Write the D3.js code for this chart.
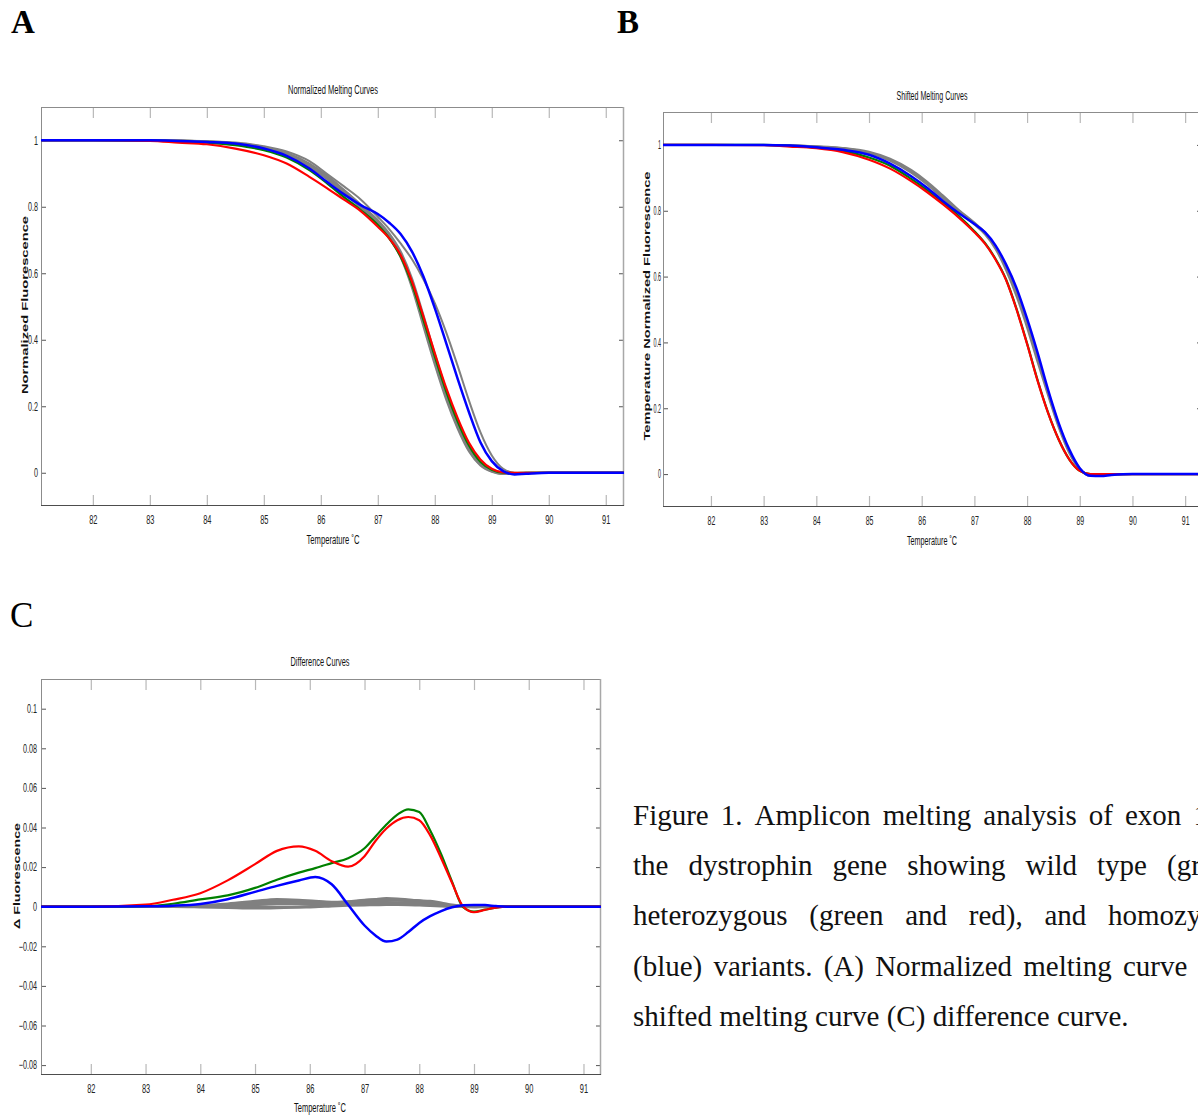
<!DOCTYPE html>
<html>
<head>
<meta charset="utf-8">
<script src="https://cdn.jsdelivr.net/npm/d3@7"></script>
<style>
  body { margin: 0; background: #fff; }
  svg { display: block; }
</style>
</head>
<body>
<svg id="fig" width="1198" height="1116"></svg>
<script>
// temperature grid shared by every curve (deg C)
const temps = [81.1, 82, 83, 83.5, 84, 84.5, 85, 85.4, 85.8, 86.1, 86.4, 86.7, 87.0, 87.2, 87.4,
  87.6, 87.8, 88.0, 88.2, 88.4, 88.6, 88.8, 89.0, 89.2, 89.4, 89.6, 90, 91, 91.32];

// A - normalized melting curves
const normGray = [
  [1, 1, 1, 0.999, 0.996, 0.99, 0.978, 0.96, 0.928, 0.892, 0.85, 0.805, 0.755, 0.715, 0.66, 0.575, 0.462, 0.345, 0.238, 0.148, 0.075, 0.028, 0.006, -0.003, -0.003, 0, 0, 0, 0],
  [1, 1, 1, 0.999, 0.996, 0.989, 0.976, 0.957, 0.924, 0.888, 0.846, 0.8, 0.752, 0.71, 0.652, 0.562, 0.448, 0.332, 0.227, 0.138, 0.068, 0.024, 0.004, -0.004, -0.003, -0.001, 0, 0, 0],
  [1, 1, 1, 0.999, 0.997, 0.991, 0.98, 0.962, 0.93, 0.895, 0.852, 0.807, 0.76, 0.72, 0.666, 0.585, 0.475, 0.358, 0.25, 0.157, 0.082, 0.032, 0.008, -0.002, -0.002, 0, 0, 0, 0],
  [1, 1, 1, 0.998, 0.995, 0.988, 0.974, 0.954, 0.92, 0.884, 0.842, 0.797, 0.748, 0.706, 0.648, 0.556, 0.44, 0.325, 0.22, 0.133, 0.064, 0.022, 0.003, -0.004, -0.004, -0.001, 0, 0, 0],
  [1, 1, 1, 0.999, 0.997, 0.993, 0.982, 0.966, 0.937, 0.9, 0.862, 0.822, 0.77, 0.733, 0.69, 0.642, 0.582, 0.51, 0.422, 0.322, 0.217, 0.122, 0.052, 0.012, 0, -0.002, 0, 0, 0]
];
const normGreen = [1, 1, 0.999, 0.997, 0.993, 0.985, 0.97, 0.948, 0.91, 0.872, 0.83, 0.79, 0.745, 0.705, 0.65, 0.567, 0.46, 0.35, 0.245, 0.155, 0.082, 0.033, 0.009, 0, -0.001, 0, 0, 0, 0];
const normRed = [1, 1, 0.998, 0.993, 0.988, 0.975, 0.955, 0.93, 0.89, 0.857, 0.822, 0.787, 0.74, 0.705, 0.655, 0.575, 0.47, 0.36, 0.255, 0.165, 0.09, 0.04, 0.012, 0.001, 0, 0, 0, 0, 0];
const normBlue = [1, 1, 1, 0.998, 0.995, 0.99, 0.975, 0.953, 0.915, 0.876, 0.838, 0.805, 0.778, 0.752, 0.718, 0.665, 0.59, 0.495, 0.39, 0.283, 0.182, 0.092, 0.035, 0.005, -0.005, -0.003, 0, 0, 0];

// B - temperature shifted melting curves
const shiftGray = [
  [1, 1, 1, 0.999, 0.995, 0.99, 0.977, 0.955, 0.92, 0.885, 0.843, 0.8, 0.762, 0.733, 0.69, 0.628, 0.55, 0.455, 0.35, 0.245, 0.148, 0.068, 0.016, -0.004, -0.004, -0.001, 0, 0, 0],
  [1, 1, 1, 0.999, 0.996, 0.991, 0.979, 0.958, 0.924, 0.889, 0.847, 0.803, 0.764, 0.735, 0.692, 0.632, 0.555, 0.46, 0.356, 0.25, 0.152, 0.07, 0.017, -0.004, -0.004, 0, 0, 0, 0],
  [1, 1, 1, 0.998, 0.995, 0.989, 0.975, 0.952, 0.916, 0.88, 0.838, 0.796, 0.758, 0.728, 0.684, 0.62, 0.54, 0.445, 0.34, 0.238, 0.142, 0.064, 0.014, -0.005, -0.004, -0.001, 0, 0, 0]
];
const shiftGreen = [1, 1, 1, 0.997, 0.992, 0.982, 0.962, 0.937, 0.897, 0.863, 0.826, 0.785, 0.738, 0.702, 0.654, 0.592, 0.502, 0.397, 0.285, 0.186, 0.105, 0.045, 0.01, 0, -0.001, 0, 0, 0, 0];
const shiftRed = [1, 1, 0.999, 0.995, 0.99, 0.978, 0.955, 0.928, 0.89, 0.857, 0.82, 0.78, 0.735, 0.7, 0.652, 0.59, 0.5, 0.395, 0.283, 0.185, 0.105, 0.045, 0.01, 0, 0, 0, 0, 0, 0];
const shiftBlue = [1, 1, 1, 0.998, 0.993, 0.985, 0.97, 0.943, 0.905, 0.87, 0.83, 0.793, 0.76, 0.735, 0.695, 0.637, 0.565, 0.472, 0.368, 0.255, 0.155, 0.075, 0.018, -0.005, -0.006, -0.003, 0, 0, 0];

// C - difference curves
const diffGray = [
  [0, 0, 0, 0.0002, 0.0006, 0.0015, 0.0028, 0.0038, 0.0034, 0.0028, 0.0024, 0.0025, 0.0032, 0.0038, 0.0042, 0.004, 0.0035, 0.003, 0.0024, 0.0015, 0.0006, 0, -0.0002, 0, 0, 0, 0, 0, 0],
  [0, 0, 0, 0, 0.0002, 0.0008, 0.0016, 0.0022, 0.002, 0.0017, 0.0016, 0.0018, 0.0022, 0.0027, 0.003, 0.0031, 0.0029, 0.0025, 0.0018, 0.001, 0.0003, 0, 0, 0, 0, 0, 0, 0, 0],
  [0, 0, 0, 0, -0.0002, -0.0005, -0.0008, -0.0006, -0.0002, 0.0002, 0.0006, 0.001, 0.0014, 0.0018, 0.002, 0.0021, 0.002, 0.0017, 0.0012, 0.0007, 0.0002, 0, 0, 0, 0, 0, 0, 0, 0],
  [0, 0, 0, 0, 0, 0.0003, 0.0009, 0.0014, 0.0013, 0.001, 0.0009, 0.0011, 0.0013, 0.0014, 0.0015, 0.0014, 0.0012, 0.001, 0.0008, 0.0005, 0.0002, 0, 0, 0, 0, 0, 0, 0, 0],
  [0, 0, 0, 0.0001, 0.0004, 0.0011, 0.002, 0.0028, 0.0027, 0.0024, 0.0022, 0.0026, 0.0033, 0.0036, 0.0038, 0.0037, 0.0034, 0.0031, 0.0028, 0.002, 0.001, 0.0003, 0, 0, 0, 0, 0, 0, 0],
  [0, 0, 0, 0, 0.0001, 0.0004, 0.0002, -0.0002, -0.0003, -0.0001, 0.0003, 0.0006, 0.0008, 0.0009, 0.001, 0.001, 0.0009, 0.0007, 0.0005, 0.0003, 0.0001, 0, 0, 0, 0, 0, 0, 0, 0],
  [0, 0, 0, 0.0001, 0.0003, 0.0009, 0.0018, 0.0026, 0.0025, 0.0021, 0.0019, 0.002, 0.0025, 0.003, 0.0033, 0.0034, 0.0032, 0.0028, 0.0022, 0.0014, 0.0006, 0.0001, 0, 0, 0, 0, 0, 0, 0]
];
const diffGreen = [0, 0, 0.0003, 0.0015, 0.0037, 0.0057, 0.0095, 0.0136, 0.0172, 0.0195, 0.022, 0.0245, 0.0295, 0.0355, 0.0415, 0.0465, 0.0492, 0.0478, 0.0385, 0.0265, 0.0125, -0.0002, -0.0025, -0.0015, -0.0005, 0, 0, 0, 0];
const diffRed = [0, 0, 0.001, 0.0035, 0.0068, 0.0133, 0.0215, 0.0282, 0.0305, 0.0282, 0.023, 0.0202, 0.0255, 0.0332, 0.0395, 0.0437, 0.0453, 0.0437, 0.036, 0.0245, 0.012, 0.0002, -0.0028, -0.0016, -0.0005, 0, 0, 0, 0];
const diffBlue = [0, 0, 0.0002, 0.0005, 0.0014, 0.0038, 0.0075, 0.0105, 0.0132, 0.015, 0.0113, 0.001, -0.0095, -0.0145, -0.0176, -0.0166, -0.0128, -0.0082, -0.0048, -0.0022, -0.0003, 0.0007, 0.0009, 0.0008, 0.0003, 0, 0, 0, 0];

// tick labels
const xTicks = [82, 83, 84, 85, 86, 87, 88, 89, 90, 91];
const normTicks = [0, 0.2, 0.4, 0.6, 0.8, 1];
const diffTicks = [-0.08, -0.06, -0.04, -0.02, 0, 0.02, 0.04, 0.06, 0.08, 0.1];

// caption words; lines 1-4 are justified so one visible word is pinned to its x
const captionLines = [
  ['Figure', '1.', 'Amplicon', 'melting', 'analysis', 'of', 'exon', '1'],
  ['the', 'dystrophin', 'gene', 'showing', 'wild', 'type', '(gray),'],
  ['heterozygous', '(green', 'and', 'red),', 'and', 'homozygous'],
  ['(blue)', 'variants.', '(A)', 'Normalized', 'melting', 'curve', '(B)'],
  ['shifted', 'melting', 'curve', '(C)', 'difference', 'curve.']
];
const captionPins = [[6, 1125], [6, 1167], [5, 1108], [5, 1123], null];

const COLORS = { gray: '#808080', green: '#008000', red: '#ff0000', blue: '#0000ff' };
const svg = d3.select('#fig');

// squash text horizontally like the stretched matlab export
function squeeze(sel, k) {
  sel.each(function () {
    const w = this.getComputedTextLength();
    this.setAttribute('textLength', w * k);
    this.setAttribute('lengthAdjust', 'spacingAndGlyphs');
  });
}

function drawPanel(p) {
  const x = d3.scaleLinear().domain([81.09, 91.32]).range([p.left, p.right]);
  const y = d3.scaleLinear().domain(p.yDomain).range([p.bottom, p.top]);
  const g = svg.append('g');

  g.append('clipPath').attr('id', p.id + '-clip')
    .append('rect')
    .attr('x', p.left).attr('y', p.top)
    .attr('width', p.right - p.left).attr('height', p.bottom - p.top);

  // ticks (pointing inwards, matlab style)
  const xTickColor = '#b8b8b8', yTickColor = '#555';
  const bottom = g.append('g').attr('transform', `translate(0,${p.bottom})`)
    .call(d3.axisBottom(x).tickValues(xTicks).tickSize(-11).tickPadding(9).tickFormat(d3.format('d')));
  const top = g.append('g').attr('transform', `translate(0,${p.top})`)
    .call(d3.axisTop(x).tickValues(xTicks).tickSize(-11).tickFormat(''));
  const left = g.append('g').attr('transform', `translate(${p.left},0)`)
    .call(d3.axisLeft(y).tickValues(p.yTicks).tickSize(-5).tickPadding(p.yPad).tickFormat(p.yFormat));
  const right = g.append('g').attr('transform', `translate(${p.right},0)`)
    .call(d3.axisRight(y).tickValues(p.yTicks).tickSize(-5).tickFormat(''));

  [bottom, top, left, right].forEach(a => a.select('.domain').remove());
  [bottom, top].forEach(a => a.selectAll('.tick line').attr('stroke', xTickColor).attr('stroke-width', 1.2));
  [left, right].forEach(a => a.selectAll('.tick line').attr('stroke', yTickColor));
  [bottom, left].forEach(a => a.selectAll('text')
    .attr('font-family', 'Liberation Sans, Arial, sans-serif')
    .attr('font-size', 12).attr('fill', '#222'));
  squeeze(bottom.selectAll('text'), p.xSqueeze);
  squeeze(left.selectAll('text'), p.ySqueeze);

  // box
  g.append('line').attr('x1', p.left).attr('x2', p.right).attr('y1', p.top + 0.5).attr('y2', p.top + 0.5).attr('stroke', '#8c8c8c');
  g.append('line').attr('x1', p.left + 0.5).attr('x2', p.left + 0.5).attr('y1', p.top).attr('y2', p.bottom).attr('stroke', '#8c8c8c');
  g.append('line').attr('x1', p.right - 0.5).attr('x2', p.right - 0.5).attr('y1', p.top).attr('y2', p.bottom).attr('stroke', '#a8a8a8').attr('stroke-width', 1.5);
  g.append('line').attr('x1', p.left).attr('x2', p.right).attr('y1', p.bottom - 0.5).attr('y2', p.bottom - 0.5).attr('stroke', '#4d4d4d');

  // curves
  const line = d3.line()
    .x((d, i) => x(temps[i]))
    .y(d => y(d))
    .curve(d3.curveMonotoneX);
  const lines = g.append('g').attr('clip-path', `url(#${p.id}-clip)`).attr('fill', 'none')
    .attr('stroke-linejoin', 'round').attr('stroke-linecap', 'round');
  p.gray.forEach(s => lines.append('path').attr('d', line(s)).attr('stroke', COLORS.gray).attr('stroke-width', p.grayWidth));
  lines.append('path').attr('d', line(p.green)).attr('stroke', COLORS.green).attr('stroke-width', 2.2);
  lines.append('path').attr('d', line(p.red)).attr('stroke', COLORS.red).attr('stroke-width', 2.2);
  lines.append('path').attr('d', line(p.blue)).attr('stroke', COLORS.blue).attr('stroke-width', 2.5);

  // title and axis labels
  const lab = (txt, cx, cy, w, opts = {}) => {
    const t = g.append('text').text(txt)
      .attr('text-anchor', 'middle')
      .attr('font-family', 'Liberation Sans, Arial, sans-serif')
      .attr('font-size', opts.size || 12)
      .attr('font-weight', opts.bold ? 'bold' : 'normal')
      .attr('fill', '#111')
      .attr('textLength', w).attr('lengthAdjust', 'spacingAndGlyphs');
    if (opts.rotate) t.attr('transform', `translate(${cx},${cy}) rotate(-90)`);
    else t.attr('x', cx).attr('y', cy);
    return t;
  };
  lab(p.title, p.titleX, p.titleY, p.titleW);
  lab('Temperature \u02DAC', p.titleX, p.xlabY, p.xlabW);
  lab(p.ylab, p.ylabX, p.ylabY, p.ylabW, { rotate: true, bold: true, size: 9 });
}

drawPanel({
  id: 'a', left: 41, right: 624, top: 107, bottom: 506, yDomain: [-0.1, 1.1],
  yTicks: normTicks, yFormat: d3.format('~g'), yPad: 3, xSqueeze: 0.62, ySqueeze: 0.6, grayWidth: 2,
  gray: normGray, green: normGreen, red: normRed, blue: normBlue,
  title: 'Normalized Melting Curves', titleX: 333, titleY: 94, titleW: 90,
  xlabY: 544, xlabW: 53,
  ylab: 'Normalized Fluorescence', ylabX: 27.5, ylabY: 305, ylabW: 178
});

drawPanel({
  id: 'b', left: 663, right: 1202, top: 112, bottom: 507, yDomain: [-0.1, 1.1],
  yTicks: normTicks, yFormat: d3.format('~g'), yPad: 2, xSqueeze: 0.58, ySqueeze: 0.45, grayWidth: 2,
  gray: shiftGray, green: shiftGreen, red: shiftRed, blue: shiftBlue,
  title: 'Shifted Melting Curves', titleX: 932, titleY: 100, titleW: 71,
  xlabY: 545, xlabW: 50,
  ylab: 'Temperature Normalized Fluorescence', ylabX: 650, ylabY: 306, ylabW: 269
});

drawPanel({
  id: 'c', left: 41, right: 601, top: 679, bottom: 1075, yDomain: [-0.085, 0.115],
  yTicks: diffTicks, yFormat: d3.format('~g'), yPad: 4, xSqueeze: 0.62, ySqueeze: 0.6, grayWidth: 2.6,
  gray: diffGray, green: diffGreen, red: diffRed, blue: diffBlue,
  title: 'Difference Curves', titleX: 320, titleY: 666, titleW: 59,
  xlabY: 1112, xlabW: 52,
  ylab: '\u0394 Fluorescence', ylabX: 20, ylabY: 876, ylabW: 106
});

// panel letters
const serif = 'Liberation Serif, Times New Roman, serif';
svg.append('text').text('A').attr('x', 11).attr('y', 33).attr('font-family', serif).attr('font-size', 33).attr('font-weight', 'bold');
svg.append('text').text('B').attr('x', 617).attr('y', 33).attr('font-family', serif).attr('font-size', 33).attr('font-weight', 'bold');
svg.append('text').text('C').attr('x', 10).attr('y', 627).attr('font-family', serif).attr('font-size', 35);

// caption
const captionBase = [824.5, 875, 925, 975.5, 1026];
const captionLeft = 633;
const capSize = 29;
const cap = svg.append('g').attr('font-family', serif).attr('font-size', capSize).attr('fill', '#111');
captionLines.forEach((words, i) => {
  const nodes = words.map(w => cap.append('text').attr('y', captionBase[i]).text(w));
  const widths = nodes.map(n => n.node().getComputedTextLength());
  let gap = 0.25 * capSize;
  const pin = captionPins[i];
  if (pin) {
    const before = d3.sum(widths.slice(0, pin[0]));
    gap = (pin[1] - captionLeft - before) / pin[0];
  }
  let xPos = captionLeft;
  nodes.forEach((n, j) => { n.attr('x', xPos); xPos += widths[j] + gap; });
});
</script>
</body>
</html>
